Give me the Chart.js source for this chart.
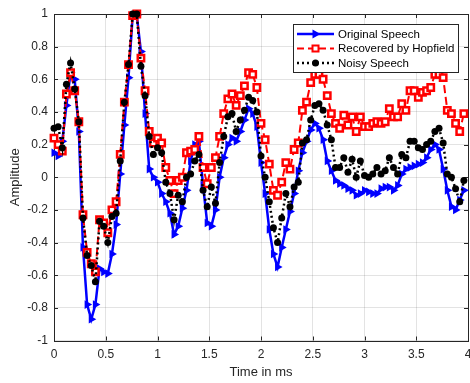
<!DOCTYPE html>
<html>
<head>
<meta charset="utf-8">
<script src="https://cdn.jsdelivr.net/npm/chart.js@4.4.0/dist/chart.umd.min.js"></script>
<style>
  html, body { margin: 0; padding: 0; background: #fff; }
</style>
</head>
<body>
<canvas id="speech-chart" width="470" height="383"></canvas>
<script>
// sample times (ms), 0.04 ms apart
var timeMs = [0,0.04,0.08,0.12,0.16,0.2,0.24,0.28,0.32,0.36,0.4,0.44,0.48,0.52,0.56,0.6,0.64,0.68,0.72,0.76,
  0.8,0.84,0.88,0.92,0.96,1,1.04,1.08,1.12,1.16,1.2,1.24,1.28,1.32,1.36,1.4,1.44,1.48,1.52,1.56,
  1.6,1.64,1.68,1.72,1.76,1.8,1.84,1.88,1.92,1.96,2,2.04,2.08,2.12,2.16,2.2,2.24,2.28,2.32,2.36,
  2.4,2.44,2.48,2.52,2.56,2.6,2.64,2.68,2.72,2.76,2.8,2.84,2.88,2.92,2.96,3,3.04,3.08,3.12,3.16,
  3.2,3.24,3.28,3.32,3.36,3.4,3.44,3.48,3.52,3.56,3.6,3.64,3.68,3.72,3.76,3.8,3.84,3.88,3.92,3.96];

var originalSpeech = [0.15,0.13,0.22,0.44,0.64,0.60,0.28,-0.43,-0.78,-0.87,-0.78,-0.56,-0.58,-0.59,-0.47,-0.29,0.02,0.32,0.61,0.99,
  0.99,0.77,0.39,0.05,0.00,-0.03,-0.10,-0.15,-0.22,-0.35,-0.30,-0.19,-0.08,0.10,0.20,0.22,-0.05,-0.28,-0.30,-0.20,
  0.00,0.12,0.20,0.24,0.22,0.28,0.35,0.42,0.39,0.31,0.09,-0.10,-0.32,-0.47,-0.55,-0.43,-0.32,-0.21,-0.10,0.04,
  0.15,0.22,0.29,0.33,0.30,0.23,0.10,0.04,-0.02,-0.04,-0.05,-0.07,-0.08,-0.11,-0.10,-0.08,-0.09,-0.10,-0.10,-0.07,
  -0.06,-0.06,-0.08,-0.05,0.02,0.05,0.06,0.07,0.08,0.09,0.12,0.17,0.20,0.17,0.05,-0.08,-0.18,-0.20,-0.14,-0.08];

var recoveredHopfield = [0.24,0.20,0.16,0.51,0.64,0.53,0.34,-0.23,-0.46,-0.53,-0.58,-0.26,-0.28,-0.34,-0.20,-0.15,0.14,0.46,0.69,0.99,
  1.00,0.73,0.53,0.28,0.21,0.24,0.21,0.06,-0.02,-0.10,-0.02,0.00,0.15,0.16,0.17,0.25,0.06,-0.04,0.06,0.12,
  0.25,0.39,0.48,0.51,0.44,0.50,0.56,0.64,0.63,0.55,0.33,0.23,0.08,-0.08,-0.11,-0.03,0.09,0.05,0.17,0.21,
  0.41,0.46,0.58,0.63,0.63,0.60,0.50,0.39,0.33,0.30,0.38,0.32,0.37,0.28,0.37,0.31,0.31,0.33,0.34,0.33,
  0.34,0.42,0.37,0.37,0.45,0.41,0.53,0.53,0.49,0.52,0.53,0.55,0.63,0.63,0.61,0.41,0.39,0.33,0.28,0.39];

var noisySpeech = [0.30,0.31,0.18,0.57,0.70,0.54,0.34,-0.25,-0.48,-0.54,-0.64,-0.27,-0.30,-0.40,-0.24,-0.22,0.10,0.46,0.69,1.00,
  1.00,0.68,0.50,0.25,0.14,0.18,0.15,-0.03,-0.10,-0.26,-0.11,-0.15,0.00,0.02,0.10,0.14,-0.08,-0.18,-0.06,-0.16,
  0.09,0.25,0.37,0.39,0.28,0.35,0.41,0.49,0.47,0.40,0.13,0.00,-0.15,-0.31,-0.40,-0.25,-0.10,-0.18,-0.06,-0.03,
  0.21,0.23,0.35,0.44,0.45,0.41,0.32,0.23,0.06,0.06,0.12,0.03,0.11,0.00,0.10,0.01,0.00,0.02,0.06,0.02,
  0.04,0.12,0.06,0.02,0.14,0.12,0.22,0.22,0.18,0.17,0.20,0.22,0.28,0.30,0.21,0.02,0.00,-0.07,-0.15,-0.02];

var xTicks = [0,0.5,1,1.5,2,2.5,3,3.5,4];
var yTicks = [-1,-0.8,-0.6,-0.4,-0.2,0,0.2,0.4,0.6,0.8,1];
var seriesNames = ['Original Speech','Recovered by Hopfield','Noisy Speech'];

var axisColor = '#262626';
var gridColor = 'rgba(38,38,38,0.13)';
var fontFamily = "'Liberation Sans', Arial, Helvetica, sans-serif";

function toPoints(values) {
  return values.map(function (v, i) { return { x: timeMs[i], y: v }; });
}

function drawMarker(ctx, kind, x, y) {
  ctx.save();
  ctx.setLineDash([]);
  if (kind === 'triangle') {
    ctx.fillStyle = '#0000ff';
    ctx.beginPath();
    ctx.moveTo(x + 5, y);
    ctx.lineTo(x - 3, y - 4.5);
    ctx.lineTo(x - 3, y + 4.5);
    ctx.closePath();
    ctx.fill();
  } else if (kind === 'rect') {
    ctx.fillStyle = '#fff';
    ctx.strokeStyle = '#ff0000';
    ctx.lineWidth = 2;
    ctx.fillRect(x - 3, y - 3, 6, 6);
    ctx.strokeRect(x - 3, y - 3, 6, 6);
  } else {
    ctx.fillStyle = '#000';
    ctx.beginPath();
    ctx.arc(x, y, 3.5, 0, Math.PI * 2);
    ctx.fill();
  }
  ctx.restore();
}

// box round the axes with MATLAB style inward ticks
var framePlugin = {
  id: 'frame',
  beforeDatasetsDraw: function (chart) {
    var ctx = chart.ctx, a = chart.chartArea;
    var xs = chart.scales.x, ys = chart.scales.y;
    ctx.save();
    ctx.strokeStyle = axisColor;
    ctx.lineWidth = 1;
    ctx.beginPath();
    xTicks.forEach(function (v) {
      var px = Math.round(xs.getPixelForValue(v)) + 0.5;
      ctx.moveTo(px, a.bottom); ctx.lineTo(px, a.bottom - 4);
      ctx.moveTo(px, a.top); ctx.lineTo(px, a.top + 4);
    });
    yTicks.forEach(function (v) {
      var py = Math.round(ys.getPixelForValue(v)) + 0.5;
      ctx.moveTo(a.left, py); ctx.lineTo(a.left + 4, py);
      ctx.moveTo(a.right, py); ctx.lineTo(a.right - 4, py);
    });
    ctx.stroke();
    ctx.strokeRect(Math.round(a.left) + 0.5, Math.round(a.top) + 0.5,
      Math.round(a.right - a.left), Math.round(a.bottom - a.top));
    ctx.restore();
  }
};

var legendPlugin = {
  id: 'boxLegend',
  afterDraw: function (chart) {
    var ctx = chart.ctx;
    var bx = 293, by = 24, bw = 165, bh = 48;
    var rows = [34, 48.5, 63];
    var kinds = ['triangle', 'rect', 'circle'];
    var colors = ['#0000ff', '#ff0000', '#000000'];
    var dashes = [[], [7, 4], [2, 3]];
    var widths = [2.5, 2, 2.5];
    ctx.save();
    ctx.fillStyle = '#fff';
    ctx.fillRect(bx, by, bw, bh);
    ctx.strokeStyle = axisColor;
    ctx.lineWidth = 1;
    ctx.strokeRect(bx + 0.5, by + 0.5, bw, bh);
    for (var i = 0; i < 3; i++) {
      ctx.strokeStyle = colors[i];
      ctx.lineWidth = widths[i];
      ctx.setLineDash(dashes[i]);
      ctx.beginPath();
      ctx.moveTo(297, rows[i]);
      ctx.lineTo(334, rows[i]);
      ctx.stroke();
      drawMarker(ctx, kinds[i], 315.5, rows[i]);
      ctx.setLineDash([]);
      ctx.fillStyle = '#000';
      ctx.font = '11.5px ' + fontFamily;
      ctx.textBaseline = 'middle';
      ctx.textAlign = 'left';
      ctx.fillText(seriesNames[i], 338, rows[i] + 0.5);
    }
    ctx.restore();
  }
};

var chart = new Chart(document.getElementById('speech-chart'), {
  type: 'line',
  data: {
    datasets: [{
      label: seriesNames[0],
      data: toPoints(originalSpeech),
      borderColor: '#0000ff',
      backgroundColor: '#0000ff',
      borderWidth: 2.5,
      pointStyle: 'triangle',
      rotation: 90,
      pointRadius: 5,
      pointBorderWidth: 0,
      order: 3
    }, {
      label: seriesNames[1],
      data: toPoints(recoveredHopfield),
      borderColor: '#ff0000',
      backgroundColor: '#ffffff',
      pointBorderColor: '#ff0000',
      borderWidth: 2,
      borderDash: [8, 4],
      pointStyle: 'rect',
      pointRadius: 4.5,
      pointBorderWidth: 2.5,
      order: 2
    }, {
      label: seriesNames[2],
      data: toPoints(noisySpeech),
      borderColor: '#000000',
      backgroundColor: '#000000',
      borderWidth: 2.5,
      borderDash: [2, 3],
      pointStyle: 'circle',
      pointRadius: 3.5,
      pointBorderWidth: 0,
      order: 1
    }]
  },
  options: {
    responsive: false,
    animation: false,
    devicePixelRatio: 1,
    clip: false,
    layout: { autoPadding: false, padding: { top: 14, right: 2, left: 0, bottom: 0 } },
    elements: { line: { tension: 0, fill: false } },
    plugins: {
      legend: { display: false },
      tooltip: { enabled: false }
    },
    scales: {
      x: {
        type: 'linear',
        min: 0,
        max: 4,
        afterBuildTicks: function (s) { s.ticks = xTicks.map(function (v) { return { value: v }; }); },
        afterFit: function (s) { s.height = 42.5; s.paddingLeft = 0; s.paddingRight = 0; },
        border: { display: false },
        grid: { color: gridColor, drawTicks: false },
        ticks: {
          padding: 7,
          maxRotation: 0,
          autoSkip: false,
          color: axisColor,
          font: { family: fontFamily, size: 12 },
          callback: function (v) { return String(v); }
        },
        title: {
          display: true,
          text: 'Time in ms',
          color: axisColor,
          padding: { top: 0, bottom: 2.5 },
          font: { family: fontFamily, size: 13 }
        }
      },
      y: {
        type: 'linear',
        min: -1,
        max: 1,
        afterBuildTicks: function (s) { s.ticks = yTicks.map(function (v) { return { value: v }; }); },
        afterFit: function (s) { s.width = 54; s.paddingTop = 0; s.paddingBottom = 0; },
        border: { display: false },
        grid: { color: gridColor, drawTicks: false },
        ticks: {
          padding: 6,
          autoSkip: false,
          color: axisColor,
          font: { family: fontFamily, size: 12 },
          callback: function (v) { return String(Number(v.toFixed(1))); }
        },
        title: {
          display: true,
          text: 'Amplitude',
          color: axisColor,
          padding: { top: 8, bottom: 0 },
          font: { family: fontFamily, size: 13 }
        }
      }
    }
  },
  plugins: [framePlugin, legendPlugin]
});
</script>
</body>
</html>
